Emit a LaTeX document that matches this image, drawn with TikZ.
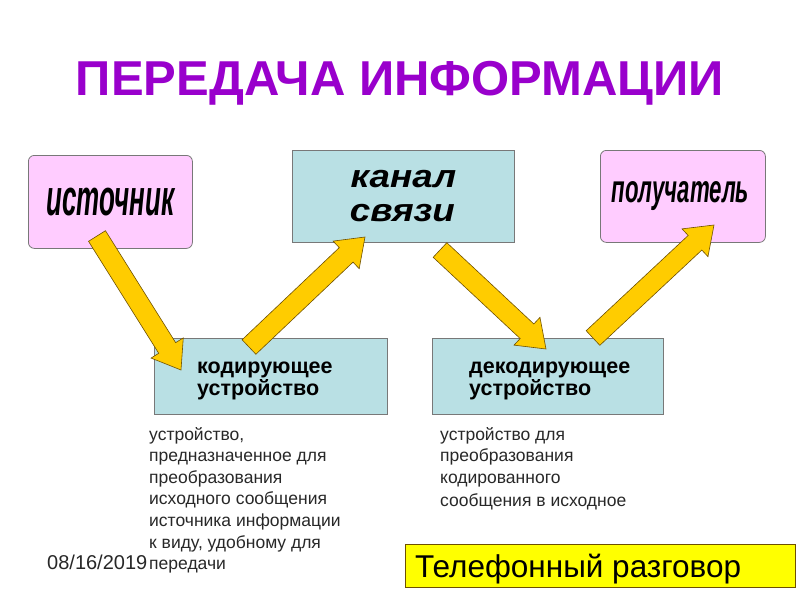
\documentclass[tikz,border=0pt]{standalone}
\usepackage{fontspec}
\setmainfont{Liberation Sans}
\usepackage{graphicx}
\usetikzlibrary{calc}
\definecolor{titlepurple}{RGB}{153,0,204}
\definecolor{pinkfill}{RGB}{255,204,255}
\definecolor{cyanfill}{RGB}{185,224,228}
\definecolor{boxline}{RGB}{120,120,120}
\definecolor{arrowfill}{RGB}{255,204,0}
\definecolor{arrowline}{RGB}{110,80,0}
\definecolor{desctext}{RGB}{40,40,40}
\definecolor{telyellow}{RGB}{255,255,0}
\tikzset{
  pinkbox/.style={draw=boxline, fill=pinkfill, rounded corners=6pt, line width=0.8pt, anchor=north west, inner sep=0pt},
  cyanbox/.style={draw=boxline, fill=cyanfill, line width=0.8pt, anchor=north west, inner sep=0pt},
  boxtext/.style={align=left, inner sep=0pt, font=\bfseries\fontsize{21.5}{21.5}\selectfont},
  arrowshape/.style={fill=arrowfill, draw=arrowline, line width=0.6pt, line join=miter},
  desc/.style={anchor=north west, align=left, inner sep=0pt, text=desctext, font=\fontsize{17.5}{21.6}\selectfont},
}
\newcommand{\blockarr}[2]{%
  \coordinate (ba-h) at ($(#2)!26pt!(#1)$);
  \draw[arrowshape] ($(#1)!10pt!90:(#2)$) -- ($(ba-h)!10pt!90:(#2)$) -- ($(ba-h)!19pt!90:(#2)$) -- (#2)
     -- ($(ba-h)!19pt!-90:(#2)$) -- ($(ba-h)!10pt!-90:(#2)$) -- ($(#1)!10pt!-90:(#2)$) -- cycle;
}
\begin{document}
\begin{tikzpicture}[x=1pt,y=-1pt]
\useasboundingbox[fill=white] (0,0) rectangle (800,600);

% title
\node[anchor=base, text=titlepurple, font=\bfseries\fontsize{49}{55}\selectfont, inner sep=0pt] (title) at (400,95) {ПЕРЕДАЧА ИНФОРМАЦИИ};

% boxes
\node[pinkbox, minimum width=164pt, minimum height=93pt,
      font=\bfseries\itshape\fontsize{51}{54}\selectfont] (src) at (28,155)
      {\raisebox{-3pt}{\scalebox{0.51}[1]{источник}}};
\node[cyanbox, minimum width=222pt, minimum height=92pt, align=center,
      font=\bfseries\itshape\fontsize{32}{34}\selectfont] (chan) at (292,150)
      {\scalebox{1.15}[1]{канал}\\\scalebox{1.15}[1]{связи}\hspace*{2pt}};
\node[pinkbox, minimum width=165pt, minimum height=92pt,
      font=\bfseries\itshape\fontsize{39}{42}\selectfont] (rcv) at (600,150)
      {\raisebox{4pt}{\scalebox{0.57}[1]{получатель}}\hspace*{5pt}};
\node[cyanbox, minimum width=233pt, minimum height=76pt] (enc) at (154,338) {};
\node[boxtext, anchor=north west] (enctext) at (197,362) {кодирующее\\устройство};
\node[cyanbox, minimum width=231pt, minimum height=76pt] (dec) at (432,338) {};
\node[boxtext, anchor=north west] (dectext) at (469,362) {декодирующее\\устройство};

% arrows
\coordinate (a1s) at (97,236);
\coordinate (a1e) at (181,370);
\coordinate (a2s) at (249,347);
\coordinate (a2e) at (365,237);
\coordinate (a3s) at (440,250);
\coordinate (a3e) at (546,349);
\coordinate (a4s) at (593,338);
\coordinate (a4e) at (714,225);
\blockarr{a1s}{a1e}
\blockarr{a2s}{a2e}
\blockarr{a3s}{a3e}
\blockarr{a4s}{a4e}

% descriptions
\node[desc] (encdesc) at (149,427) {устройство,\\предназначенное для\\преобразования\\исходного сообщения\\источника информации\\к виду, удобному для\\передачи};
\node[desc] (decdesc) at (440,427) {устройство для\\преобразования\\кодированного\\[2pt]сообщения в исходное};

% date
\node[anchor=base west, inner sep=0pt, text=desctext, font=\fontsize{20}{22}\selectfont] (date) at (47,569) {08/16/2019};

% bottom box
\node[draw=arrowline, fill=telyellow, line width=0.8pt, anchor=north west, minimum width=390pt, minimum height=43pt, inner sep=0pt] (telbox) at (405,544) {};
\node[anchor=base west, inner sep=0pt, font=\fontsize{31.5}{34}\selectfont] (tel) at (415,577) {Телефонный разговор};
\end{tikzpicture}
\end{document}
